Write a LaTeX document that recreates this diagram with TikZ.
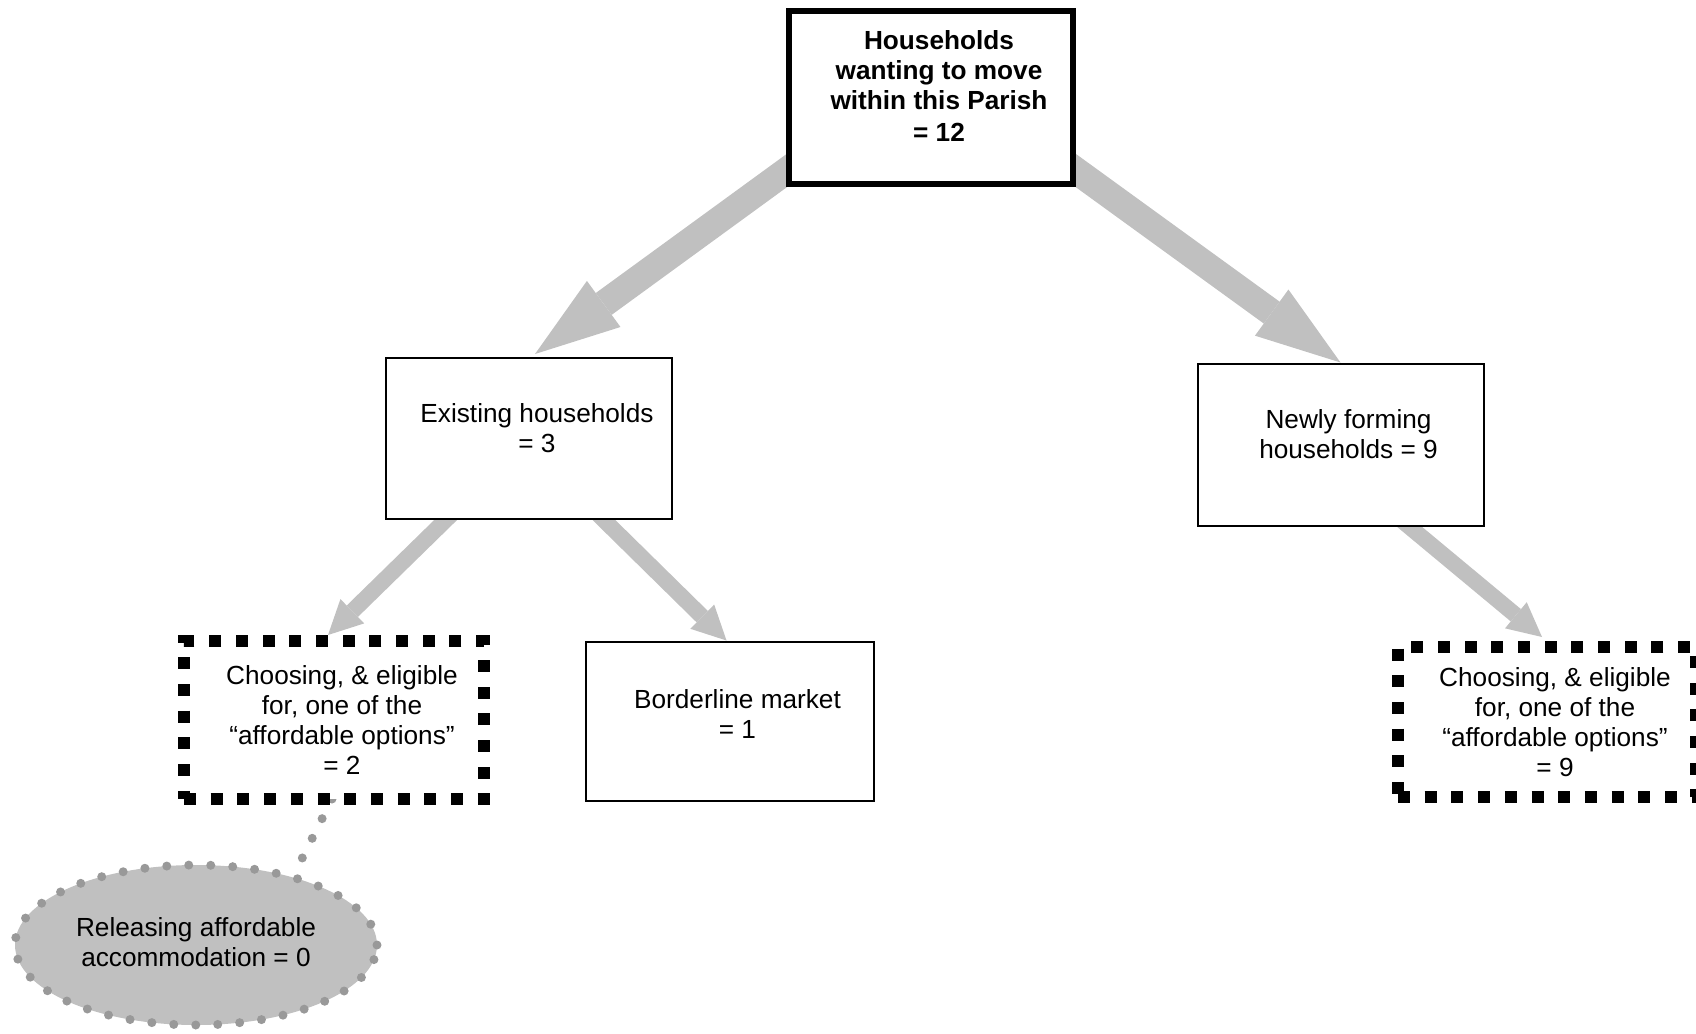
\documentclass[tikz,border=0pt]{standalone}
\usepackage{fontspec}
\setmainfont{Liberation Sans}
\usetikzlibrary{arrows.meta,backgrounds,calc,shapes.geometric}
\definecolor{flowgray}{HTML}{C0C0C0}
\definecolor{dotgray}{HTML}{999999}
\newcommand{\boxtext}[2]{\hspace*{8pt}\raisebox{#1}[\height][\depth]{\begin{tabular}{@{}c@{}}#2\end{tabular}}}
\begin{document}
\begin{tikzpicture}[x=0.5pt,y=-0.5pt,
    every node/.style={font=\fontsize{13.1pt}{15pt}\selectfont,inner sep=0pt},
    headbox/.style={draw,line width=3pt,fill=white,minimum width=142pt,minimum height=86.5pt,font=\fontsize{13.1pt}{15pt}\selectfont\bfseries},
    plainbox/.style={draw,line width=1pt,fill=white,minimum width=143pt,minimum height=80.5pt},
    choicebox/.style={draw,line width=6pt,dash pattern=on 6pt off 7.35pt,fill=white,minimum width=150pt,minimum height=79pt},
    bigflow/.style={flowgray,line width=13.5pt,-{Triangle[length=42.5pt,width=28.5pt,line width=0pt]}},
    smallflow/.style={flowgray,line width=8pt,-{Triangle[length=17pt,width=17pt,line width=0pt]}},
    dotline/.style={dotgray,line width=4.5pt,line cap=round,dash pattern=on 0pt off 11pt}]
\useasboundingbox (0,0) rectangle (1696,1033);
\node[headbox] (top) at (931,97.5) {\boxtext{4pt}{Households\\wanting to move\\within this Parish\\[1pt]= 12}};
\node[plainbox] (exist) at (529,438.5) {\boxtext{3.5pt}{Existing households\\= 3}};
\node[plainbox,minimum height=81pt] (newly) at (1340.5,444.5) {\boxtext{3.7pt}{Newly forming\\households = 9}};
\node[plainbox,minimum width=144pt,minimum height=79.5pt] (border) at (729.5,721) {\boxtext{2pt}{Borderline market\\= 1}};
\node[choicebox] (choiceL) at (334,720) {\boxtext{-1.5pt}{Choosing, \& eligible\\for, one of the\\``affordable options''\\= 2}};
\node[choicebox,minimum width=149pt,minimum height=75pt] (choiceR) at (1547,722) {\boxtext{-1.5pt}{Choosing, \& eligible\\for, one of the\\``affordable options''\\= 9}};
\node[ellipse,draw=dotgray,fill=flowgray,line width=4.5pt,line cap=round,dash pattern=on 0pt off 11pt,minimum width=181pt,minimum height=80pt] (release) at (196,945) {\begin{tabular}{@{}c@{}}Releasing affordable\\accommodation = 0\end{tabular}};
\begin{scope}[on background layer]
\draw[bigflow] ($(top.center)+(0,-32)$) -- ($(exist.north)+(6,-3)$);
\draw[bigflow] ($(top.center)+(0,-32)$) -- (newly.north);
\draw[smallflow] (exist.center) -- ($(choiceL.north)+(-6,0)$);
\draw[smallflow] ($(exist.center)+(-8,0)$) -- ($(border.north)+(-3,0)$);
\draw[smallflow] ($(newly.center)+(-30,0)$) -- ($(choiceR.north)+(-5,-4)$);
\draw[dotline] ($(choiceL.south)+(-2,-6)$) -- (release.36);
\end{scope}
\end{tikzpicture}
\end{document}
